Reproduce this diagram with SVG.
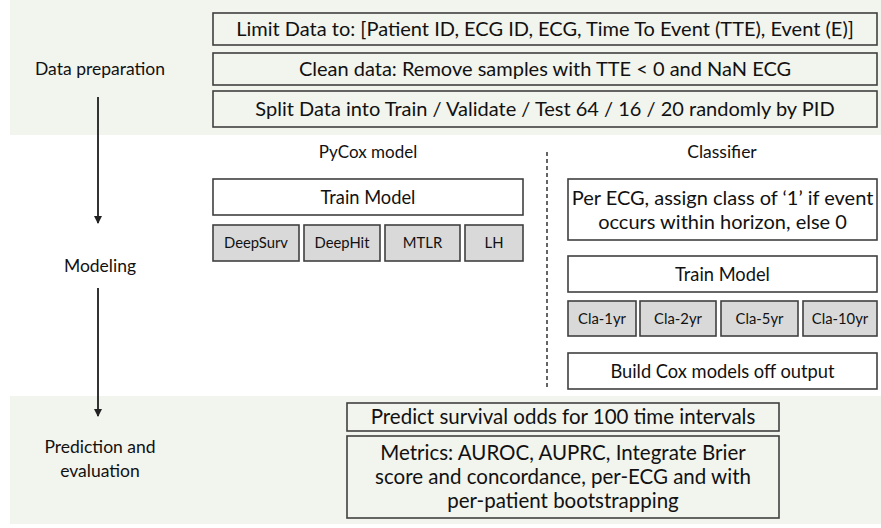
<svg xmlns="http://www.w3.org/2000/svg" width="881" height="528" viewBox="0 0 881 528">
<style>
text{font-family:Lato,"Open Sans","Liberation Sans",sans-serif;fill:#111;text-anchor:middle}
.t{font-size:17.5px}
.m{font-size:18.3px}
.b{font-size:20px}
.p{font-size:20.5px}
.s{font-size:14.8px}
.box{fill:none;stroke:#404040;stroke-width:1.6}
.wbox{fill:#fff;stroke:#404040;stroke-width:1.6}
.gbox{fill:#d9d9d9;stroke:#404040;stroke-width:1.6}
.band{fill:#f2f4ee}
.conn{stroke:#333;stroke-width:2;fill:none}
</style>
<defs>
<marker id="ah" markerWidth="8" markerHeight="8" refX="7" refY="4" orient="auto" markerUnits="userSpaceOnUse">
<path d="M0,0 L8,4 L0,8 Z" fill="#222"/>
</marker>
</defs>
<rect class="band" x="10" y="0" width="871" height="135"/>
<rect class="band" x="10" y="396" width="871" height="128"/>
<g id="labels">
<text class="t" x="100" y="75">Data preparation</text>
<text class="t" x="100" y="272">Modeling</text>
<text class="t" x="100" y="453">Prediction and</text>
<text class="t" x="100" y="477">evaluation</text>
<text class="t" x="368" y="158" style="font-size:17px">PyCox model</text>
<text class="t" x="722" y="158">Classifier</text>
</g>
<g id="connectors">
<line class="conn" x1="98" y1="97" x2="98" y2="223" marker-end="url(#ah)"/>
<line class="conn" x1="98" y1="288" x2="98" y2="416" marker-end="url(#ah)"/>
<line x1="547" y1="152" x2="547" y2="390" stroke="#333" stroke-width="1.5" stroke-dasharray="4 3"/>
</g>
<g id="limit"><rect class="box" x="213" y="13" width="664" height="32"/><text class="b" x="545" y="36">Limit Data to: [Patient ID, ECG ID, ECG, Time To Event (TTE), Event (E)]</text></g>
<g id="clean"><rect class="box" x="213" y="53" width="664" height="32"/><text class="b" x="545" y="76">Clean data: Remove samples with TTE &lt; 0 and NaN ECG</text></g>
<g id="split"><rect class="box" x="213" y="91" width="664" height="36"/><text class="b" x="545" y="116">Split Data into Train / Validate / Test 64 / 16 / 20 randomly by PID</text></g>
<g id="pycox-train"><rect class="wbox" x="213" y="179" width="310" height="36"/><text class="m" x="368" y="204">Train Model</text></g>
<g id="deepsurv"><rect class="gbox" x="213" y="225" width="86" height="36"/><text class="s" x="256" y="248">DeepSurv</text></g>
<g id="deephit"><rect class="gbox" x="304" y="225" width="76" height="36"/><text class="s" x="342" y="248">DeepHit</text></g>
<g id="mtlr"><rect class="gbox" x="385" y="225" width="75" height="36"/><text class="s" x="422.5" y="248">MTLR</text></g>
<g id="lh"><rect class="gbox" x="465" y="225" width="58" height="36"/><text class="s" x="494" y="248">LH</text></g>
<g id="assign"><rect class="wbox" x="568" y="179" width="309" height="61"/><text class="b" x="722.5" y="205">Per ECG, assign class of ‘1’ if event</text><text class="b" x="722.5" y="229">occurs within horizon, else 0</text></g>
<g id="cla-train"><rect class="wbox" x="568" y="256" width="309" height="36"/><text class="m" x="722.5" y="281">Train Model</text></g>
<g id="cla1"><rect class="gbox" x="568" y="301" width="68" height="35"/><text class="s" x="602" y="324">Cla-1yr</text></g>
<g id="cla2"><rect class="gbox" x="640" y="301" width="76" height="35"/><text class="s" x="678" y="324">Cla-2yr</text></g>
<g id="cla5"><rect class="gbox" x="721" y="301" width="77" height="35"/><text class="s" x="759.5" y="324">Cla-5yr</text></g>
<g id="cla10"><rect class="gbox" x="803" y="301" width="74" height="35"/><text class="s" x="840" y="324">Cla-10yr</text></g>
<g id="buildcox"><rect class="wbox" x="568" y="353" width="309" height="36"/><text class="m" x="722.5" y="378">Build Cox models off output</text></g>
<g id="predict"><rect class="box" x="347" y="403" width="432" height="28"/><text class="p" x="563" y="424">Predict survival odds for 100 time intervals</text></g>
<g id="metrics"><rect class="box" x="347" y="436" width="432" height="82"/><text class="p" x="563" y="460">Metrics: AUROC, AUPRC, Integrate Brier</text><text class="p" x="563" y="484">score and concordance, per-ECG and with</text><text class="p" x="563" y="508">per-patient bootstrapping</text></g>
</svg>
